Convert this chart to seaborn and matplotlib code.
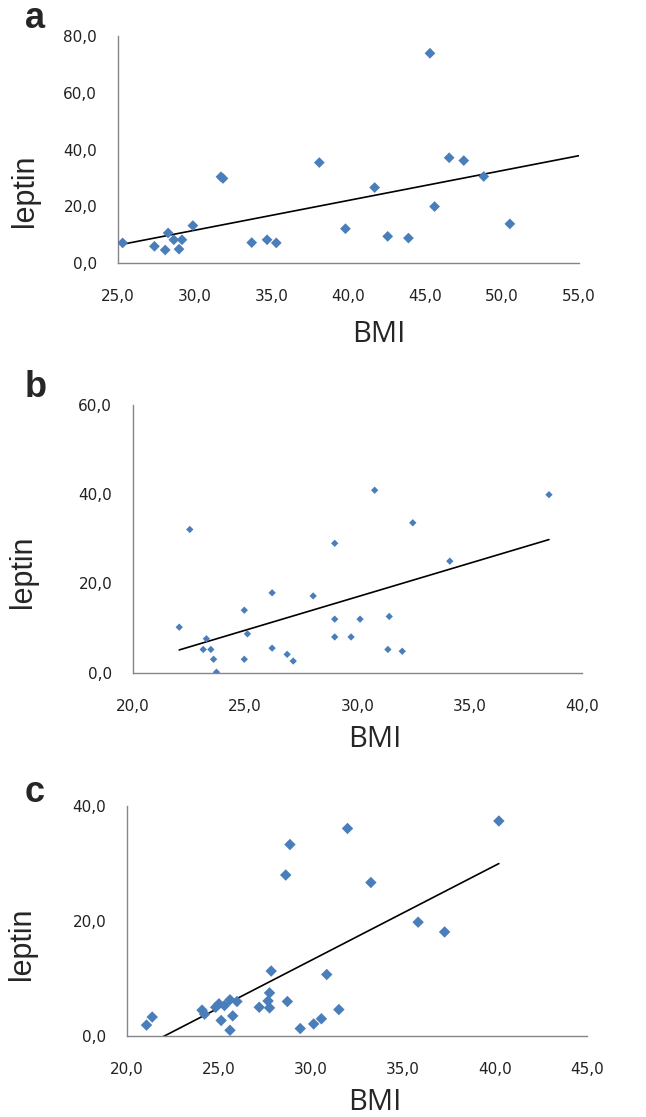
import numpy as np
import pandas as pd
import matplotlib
matplotlib.use("Agg")
import matplotlib.pyplot as plt
from matplotlib.ticker import FuncFormatter, MultipleLocator
import seaborn as sns

# panel a
bmi_a = [25.3, 27.37, 28.07, 28.26, 28.63, 28.97, 29.16, 29.87, 31.7, 31.83,
         33.7, 34.7, 35.3, 38.1, 39.8, 41.7, 42.55, 43.9, 45.3, 45.6,
         46.55, 47.5, 48.8, 50.5]
leptin_a = [7.1, 5.9, 4.6, 10.6, 8.2, 4.9, 8.2, 13.2, 30.4, 29.8,
            7.2, 8.2, 7.1, 35.4, 12.1, 26.6, 9.4, 8.8, 73.9, 19.9,
            37.1, 36.1, 30.5, 13.8]

# panel b
bmi_b = [22.06, 22.53, 23.13, 23.27, 23.47, 23.59, 23.72, 24.96, 24.96, 25.1,
         26.2, 26.2, 26.87, 27.14, 28.03, 28.99, 28.99, 28.99, 29.72, 30.12,
         30.77, 31.36, 31.42, 32.0, 32.47, 34.12, 38.54]
leptin_b = [10.2, 32.1, 5.2, 7.6, 5.2, 3.0, 0.1, 14.0, 3.0, 8.7,
            17.9, 5.5, 4.1, 2.6, 17.2, 29.0, 12.0, 8.0, 8.0, 12.0,
            40.9, 5.2, 12.6, 4.8, 33.6, 25.0, 39.9]

# panel c
bmi_c = [21.06, 21.37, 24.08, 24.22, 24.82, 25.0, 25.12, 25.3, 25.6, 25.6,
         25.75, 25.98, 27.19, 27.67, 27.75, 27.75, 27.84, 28.63, 28.72, 28.86,
         29.42, 30.15, 30.57, 30.86, 31.52, 31.99, 33.26, 35.83, 37.27, 40.22]
leptin_c = [1.9, 3.3, 4.5, 3.8, 5.0, 5.6, 2.7, 5.3, 6.3, 1.0,
            3.5, 6.0, 5.0, 6.1, 7.5, 4.9, 11.3, 28.0, 6.0, 33.3,
            1.3, 2.1, 3.0, 10.7, 4.6, 36.1, 26.7, 19.8, 18.1, 37.4]

sns.set_style("white")

fig = plt.figure(figsize=(6.46, 11.17), dpi=100)

panels = [
    # label, x, y, axes rect, xlim, xstep, ylim, ystep, marker size, line end,
    # xlabel coords, ylabel coords, panel letter baseline (fig px from top)
    ("a", bmi_a, leptin_a, [0.1827, 0.7645, 0.7136, 0.2033], (25, 55), 5, (0, 80), 20, 30, 55.0,
     (0.566, -0.25), (-0.169, 0.317), 28),
    ("b", bmi_b, leptin_b, [0.2059, 0.3978, 0.6946, 0.2396], (20, 40), 5, (0, 60), 20, 14, None,
     (0.539, -0.195), (-0.212, 0.376), 397),
    ("c", bmi_c, leptin_c, [0.1966, 0.0725, 0.7117, 0.2059], (20, 45), 5, (0, 40), 20, 34, None,
     (0.54, -0.228), (-0.195, 0.40), 802),
]

comma = FuncFormatter(lambda v, p: f"{v:.1f}".replace(".", ","))

for lab, xs, ys, rect, xlim, xstep, ylim, ystep, ms, xend, xlc, ylc, lab_y in panels:
    ax = fig.add_axes(rect)
    df = pd.DataFrame({"BMI": xs, "leptin": ys})
    sns.scatterplot(data=df, x="BMI", y="leptin", marker="D", s=ms,
                    color="#4A7EBB", edgecolor="none", ax=ax, zorder=3)

    # linear trendline
    k, b0 = np.polyfit(df["BMI"], df["leptin"], 1)
    x0 = df["BMI"].min()
    x1 = xend if xend is not None else df["BMI"].max()
    line = pd.DataFrame({"BMI": [x0, x1]})
    line["fit"] = k * line["BMI"] + b0
    sns.lineplot(data=line, x="BMI", y="fit", color="black", lw=1.2, ax=ax, zorder=2)

    ax.set_xlim(*xlim)
    ax.set_ylim(*ylim)
    ax.xaxis.set_major_locator(MultipleLocator(xstep))
    ax.yaxis.set_major_locator(MultipleLocator(ystep))
    ax.xaxis.set_major_formatter(comma)
    ax.yaxis.set_major_formatter(comma)

    for s in ["top", "right"]:
        ax.spines[s].set_visible(False)
    for s in ["left", "bottom"]:
        ax.spines[s].set_color("#868686")
        ax.spines[s].set_linewidth(1.0)
    ax.tick_params(axis="both", direction="out", length=5, width=1, color="#868686",
                   labelsize=11, labelcolor="#222222")
    ax.tick_params(axis="x", pad=14)
    ax.tick_params(axis="y", pad=10)
    for t in ax.get_xticklabels() + ax.get_yticklabels():
        t.set_fontfamily("DejaVu Sans")

    ax.set_xlabel("BMI", fontsize=21, family="Open Sans")
    ax.set_ylabel("leptin", fontsize=22, family="Liberation Sans")
    ax.xaxis.set_label_coords(*xlc)
    ax.yaxis.set_label_coords(*ylc)

    fig.text(25 / 646, 1 - lab_y / 1117, lab, fontsize=26, fontweight="bold",
             family="Liberation Sans", va="baseline", ha="left")

fig.savefig("out.png", dpi=100)
